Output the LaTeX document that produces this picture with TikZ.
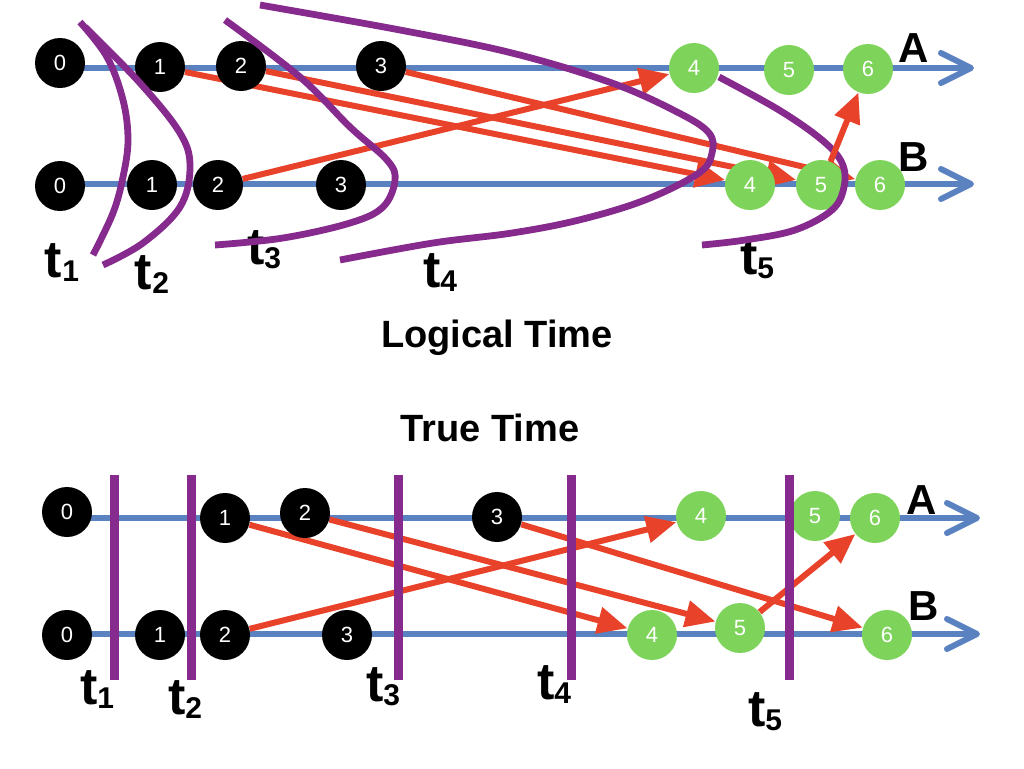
\documentclass[tikz,border=0pt]{standalone}
\usepackage{fontspec}
\setmainfont{Liberation Sans}
\usetikzlibrary{arrows.meta}
\definecolor{lineblue}{RGB}{91,130,192}
\definecolor{msgred}{RGB}{232,66,42}
\definecolor{cutpurple}{RGB}{134,42,142}
\definecolor{evgreen}{RGB}{126,212,90}
\pgfdeclarelayer{background}
\pgfdeclarelayer{foreground}
\pgfsetlayers{background,main,foreground}
\newcommand{\tsub}[1]{t\raisebox{-2pt}{\fontsize{15}{15}\selectfont #1}}
\begin{document}
\begin{tikzpicture}[x=0.5pt, y=-0.5pt, line join=round, line cap=round,
		ev/.style={circle, fill=black, text=white, minimum size=25pt, inner sep=0pt, font=\fontsize{11}{11}\selectfont},
		gev/.style={ev, fill=evgreen},
		axis/.style={lineblue, line width=3pt, -{Straight Barb[length=15pt, width=15pt, round]}},
		msg/.style={msgred, line width=3pt, -{Triangle[length=15pt, width=13pt]}},
		cut/.style={cutpurple, line width=3.4pt},
		cutv/.style={cutpurple, line width=4.5pt, line cap=butt},
		lab/.style={font=\bfseries\fontsize{21}{21}\selectfont},
		tlab/.style={font=\bfseries\fontsize{26}{26}\selectfont},
		title/.style={font=\bfseries\fontsize{19}{19}\selectfont}]
	\useasboundingbox (0,0) rectangle (1024,768);
	% logical time
	\path (60,68) coordinate (lastart) (974,68) coordinate (laend)
		(60,184) coordinate (lbstart) (974,184) coordinate (lbend);
	\node[ev] (la0) at (60,63) {0};
	\node[ev] (la1) at (160,67) {1};
	\node[ev] (la2) at (241,66) {2};
	\node[ev] (la3) at (381,66) {3};
	\node[gev] (la4) at (694,68) {4};
	\node[gev] (la5) at (789,70) {5};
	\node[gev] (la6) at (868,69) {6};
	\node[ev] (lb0) at (60,186) {0};
	\node[ev] (lb1) at (152,185) {1};
	\node[ev] (lb2) at (218,185) {2};
	\node[ev] (lb3) at (341,185) {3};
	\node[gev] (lb4) at (750,185) {4};
	\node[gev] (lb5) at (821,185) {5};
	\node[gev] (lb6) at (880,185) {6};
	\node[lab] (lA) at (914,48) {A};
	\node[lab] (lB) at (914,157) {B};
	\begin{pgfonlayer}{background}
		\draw[axis] (lastart) -- (laend);
		\draw[axis] (lbstart) -- (lbend);
		\draw[msg] (la1) -- (lb4);
		\draw[msg] (la2) -- (lb5);
		\draw[msg] (la3) -- (lb6);
		\draw[msg] (lb2) -- (la4);
	\end{pgfonlayer}
	\begin{pgfonlayer}{foreground}
		\draw[cut] plot[smooth, tension=0.6] coordinates {(80,22) (107,57) (123,100) (128,140) (123,177) (113,213) (93,255)};
		\draw[cut] plot[smooth, tension=0.6] coordinates {(85,27) (140,83) (180,133) (190,167) (180,207) (143,243) (103,265)};
		\draw[cut] plot[smooth, tension=0.6] coordinates {(225,20) (300,77) (350,127) (387,160) (395,180) (383,207) (350,223) (283,238) (215,245)};
		\draw[cut] plot[smooth, tension=0.6] coordinates {(260,5) (400,30) (512,53) (612,83) (679,113) (709,133) (712,153) (699,173) (645,200) (579,220) (512,233) (433,243) (340,260)};
		\draw[cut] plot[smooth, tension=0.6] coordinates {(719,77) (779,110) (822,140) (842,163) (844,187) (832,210) (795,230) (745,240) (702,245)};
		\draw[msg] (lb5) -- (la6);
	\end{pgfonlayer}
	\node[tlab] (lt1) at (62,263) {\tsub{1}};
	\node[tlab] (lt2) at (152,275) {\tsub{2}};
	\node[tlab] (lt3) at (264,250) {\tsub{3}};
	\node[tlab] (lt4) at (440,273) {\tsub{4}};
	\node[tlab] (lt5) at (757,260) {\tsub{5}};
	\node[title] (logical) at (497,338) {Logical Time};
	% true time
	\node[title] (true) at (490,428) {True Time};
	\path (67,518) coordinate (tastart) (980,518) coordinate (taend)
		(67,634) coordinate (tbstart) (980,634) coordinate (tbend);
	\node[ev] (ta0) at (67,512) {0};
	\node[ev] (ta1) at (225,518) {1};
	\node[ev] (ta2) at (305,513) {2};
	\node[ev] (ta3) at (497,517) {3};
	\node[gev] (ta4) at (701,516) {4};
	\node[gev] (ta5) at (815,516) {5};
	\node[gev] (ta6) at (875,518) {6};
	\node[ev] (tb0) at (67,635) {0};
	\node[ev] (tb1) at (160,635) {1};
	\node[ev] (tb2) at (225,635) {2};
	\node[ev] (tb3) at (347,635) {3};
	\node[gev] (tb4) at (652,635) {4};
	\node[gev] (tb5) at (740,628) {5};
	\node[gev] (tb6) at (887,635) {6};
	\node[lab] (tA) at (922,500) {A};
	\node[lab] (tB) at (924,606) {B};
	\begin{pgfonlayer}{background}
		\draw[axis] (tastart) -- (taend);
		\draw[axis] (tbstart) -- (tbend);
		\draw[msg] (ta1) -- (tb4);
		\draw[msg] (ta2) -- (tb5);
		\draw[msg] (ta3) -- (tb6);
		\draw[msg] (tb2) -- (ta4);
		\draw[msg] (tb5) -- (ta6);
	\end{pgfonlayer}
	\begin{pgfonlayer}{foreground}
		\draw[cutv] (114,475) -- (114,680);
		\draw[cutv] (191,475) -- (191,680);
		\draw[cutv] (398,475) -- (398,680);
		\draw[cutv] (571,475) -- (571,680);
		\draw[cutv] (789,475) -- (789,680);
	\end{pgfonlayer}
	\node[tlab] (tt1) at (97,690) {\tsub{1}};
	\node[tlab] (tt2) at (185,700) {\tsub{2}};
	\node[tlab] (tt3) at (383,687) {\tsub{3}};
	\node[tlab] (tt4) at (554,685) {\tsub{4}};
	\node[tlab] (tt5) at (765,712) {\tsub{5}};
\end{tikzpicture}
\end{document}
